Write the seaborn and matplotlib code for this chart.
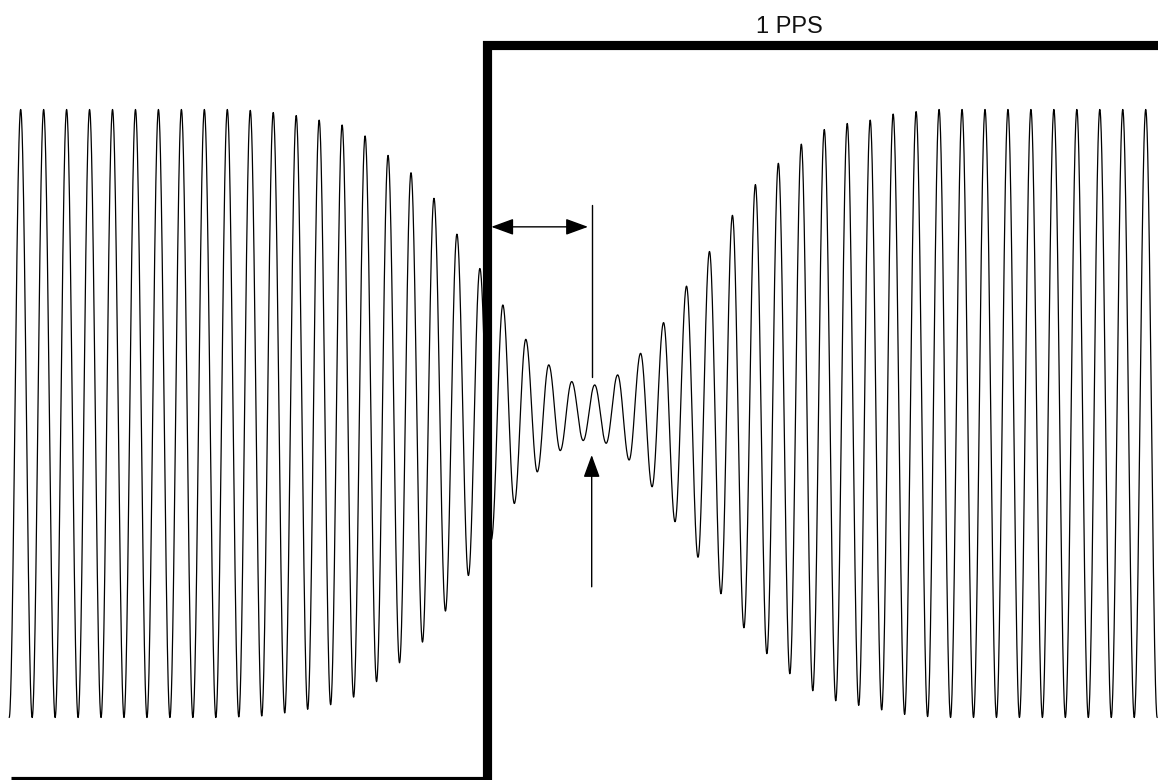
import numpy as np
import pandas as pd
import matplotlib
matplotlib.use("Agg")
import matplotlib.pyplot as plt
import seaborn as sns

# ---------------- data ----------------
# carrier time axis in cycles; extrema every half cycle (trough at integer t)
half_cycle_t = np.arange(0, 50.5, 0.5)
# normalized envelope amplitude at each extremum
envelope = [1.0] * 20 + [
    0.998, 0.997, 0.995, 0.990, 0.985, 0.980, 0.973, 0.965, 0.958, 0.949,
    0.933, 0.913, 0.882, 0.849, 0.820, 0.792, 0.752, 0.708, 0.650, 0.590,
    0.533, 0.477, 0.415, 0.357, 0.296, 0.244, 0.192, 0.160, 0.122, 0.105,
    0.089, 0.094, 0.098, 0.127, 0.153, 0.198, 0.241, 0.299, 0.356, 0.419,
    0.473, 0.533, 0.593, 0.652, 0.705, 0.753, 0.790, 0.823, 0.856, 0.886,
    0.912, 0.934, 0.945, 0.954, 0.960, 0.965, 0.975, 0.985, 0.990, 0.993,
    0.997,
] + [1.0] * 20

# 1 PPS pulse: start, rising edge, end (cycles) and levels
pps_t = [0.057, 20.81, 20.81, 50.6]
pps_v = [-1.2079, -1.2079, 1.213, 1.213]
pps_label = "1 PPS"
pps_label_pos = (34.0, 1.252)

# delay marker (horizontal double arrow) and amplitude marker (vertical)
delay_start, delay_end, delay_level = 20.995, 25.21, 0.614
marker_t = 25.37
marker_top, marker_bottom = 0.686, 0.121
up_arrow_tip, up_arrow_tail = -0.1365, -0.570

# ---------------- build the carrier curve between extrema ----------------
signed = np.array(envelope) * np.where(np.arange(len(envelope)) % 2 == 0, -1.0, 1.0)
ts, vs = [], []
u = np.linspace(0, 1, 40, endpoint=False)
for i in range(len(signed) - 1):
    ts.append(half_cycle_t[i] + 0.5 * u)
    vs.append(signed[i] + (signed[i + 1] - signed[i]) * (1 - np.cos(np.pi * u)) / 2)
ts.append([half_cycle_t[-1]])
vs.append([signed[-1]])
wave = pd.DataFrame({"t": np.concatenate(ts), "v": np.concatenate(vs)})
pulse = pd.DataFrame({"t": pps_t, "v": pps_v})

# ---------------- draw ----------------
sns.set_theme(style="white")
plt.rcParams["font.family"] = ["Liberation Sans", "DejaVu Sans"]

fig = plt.figure(figsize=(11.58, 7.80), dpi=100)
ax = fig.add_axes([0, 0, 1, 1])

sns.lineplot(data=wave, x="t", y="v", sort=False, estimator=None,
             color="black", linewidth=0.9, ax=ax)
sns.lineplot(data=pulse, x="t", y="v", sort=False, estimator=None,
             color="black", linewidth=6.6, ax=ax,
             solid_joinstyle="miter", solid_capstyle="butt")
ax.lines[-1].set_clip_on(False)

arrow_kw = dict(color="black", lw=1.0, shrinkA=0, shrinkB=0)
ax.annotate("", xy=(delay_end, delay_level), xytext=(delay_start, delay_level),
            arrowprops=dict(arrowstyle="<|-|>,head_length=1.15,head_width=0.42",
                            **arrow_kw))
ax.plot([marker_t, marker_t], [marker_top, marker_bottom], color="black", lw=1.0)
ax.annotate("", xy=(marker_t, up_arrow_tip), xytext=(marker_t, up_arrow_tail),
            arrowprops=dict(arrowstyle="-|>,head_length=1.15,head_width=0.42",
                            **arrow_kw))

ax.text(pps_label_pos[0], pps_label_pos[1], pps_label, ha="center",
        va="baseline", fontsize=17, color="#111111")

ax.set_xlim(-0.4007, 50.035)
ax.set_ylim(-1.2056, 1.3602)
ax.axis("off")

fig.savefig("out.png", dpi=100, facecolor="white")
